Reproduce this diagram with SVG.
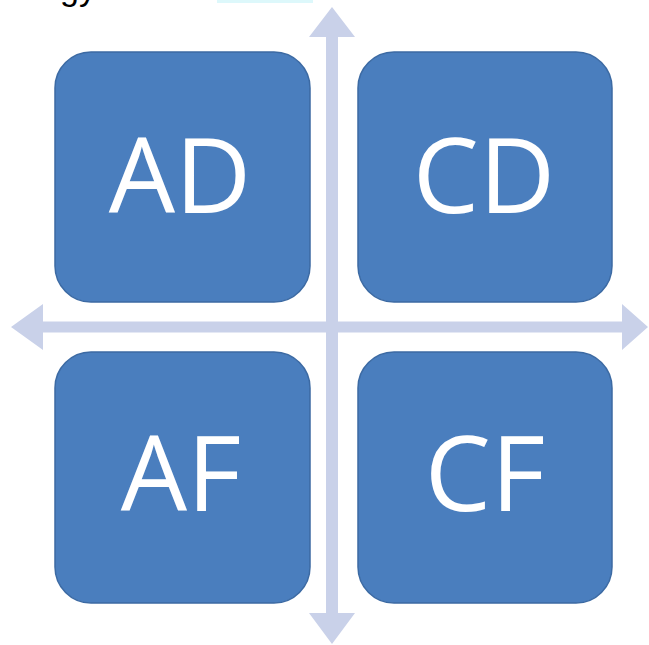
<svg xmlns="http://www.w3.org/2000/svg" width="649" height="645" viewBox="0 0 649 645">
  <style>
    .box { fill: #4A7EBE; stroke: #3C6AA3; stroke-width: 1.5; }
    .lbl { font-family: "Open Sans", "Liberation Sans", sans-serif; font-size: 105px; fill: #FFFFFF; text-anchor: middle; }
    .arrow { fill: #C9D1E9; }
  </style>
  <rect width="649" height="645" fill="#FFFFFF"/>
  <rect x="217" y="0" width="96" height="3" fill="#DDF8FB"/>
  <text x="60" y="0" font-family="Liberation Sans, sans-serif" font-size="34" fill="#000000">gy</text>
  <g id="connectors">
    <polygon class="arrow" points="332,7 355,37 338,37 338,613 355,613 332,644 309,613 326,613 326,37 309,37"/>
    <polygon class="arrow" points="11,327 43,304 43,321.5 622,321.5 622,304 648,327 622,350 622,332.5 43,332.5 43,350"/>
  </g>
  <g id="node-AD">
    <rect class="box" x="55" y="52" width="255" height="250" rx="36" ry="36"/>
    <text class="lbl" x="180" y="213">AD</text>
  </g>
  <g id="node-CD">
    <rect class="box" x="358" y="52" width="254" height="250" rx="36" ry="36"/>
    <text class="lbl" x="484" y="213">CD</text>
  </g>
  <g id="node-AF">
    <rect class="box" x="55" y="352" width="255" height="251" rx="36" ry="36"/>
    <text class="lbl" x="181" y="511">AF</text>
  </g>
  <g id="node-CF">
    <rect class="box" x="358" y="352" width="254" height="251" rx="36" ry="36"/>
    <text class="lbl" x="485" y="511">CF</text>
  </g>
</svg>
